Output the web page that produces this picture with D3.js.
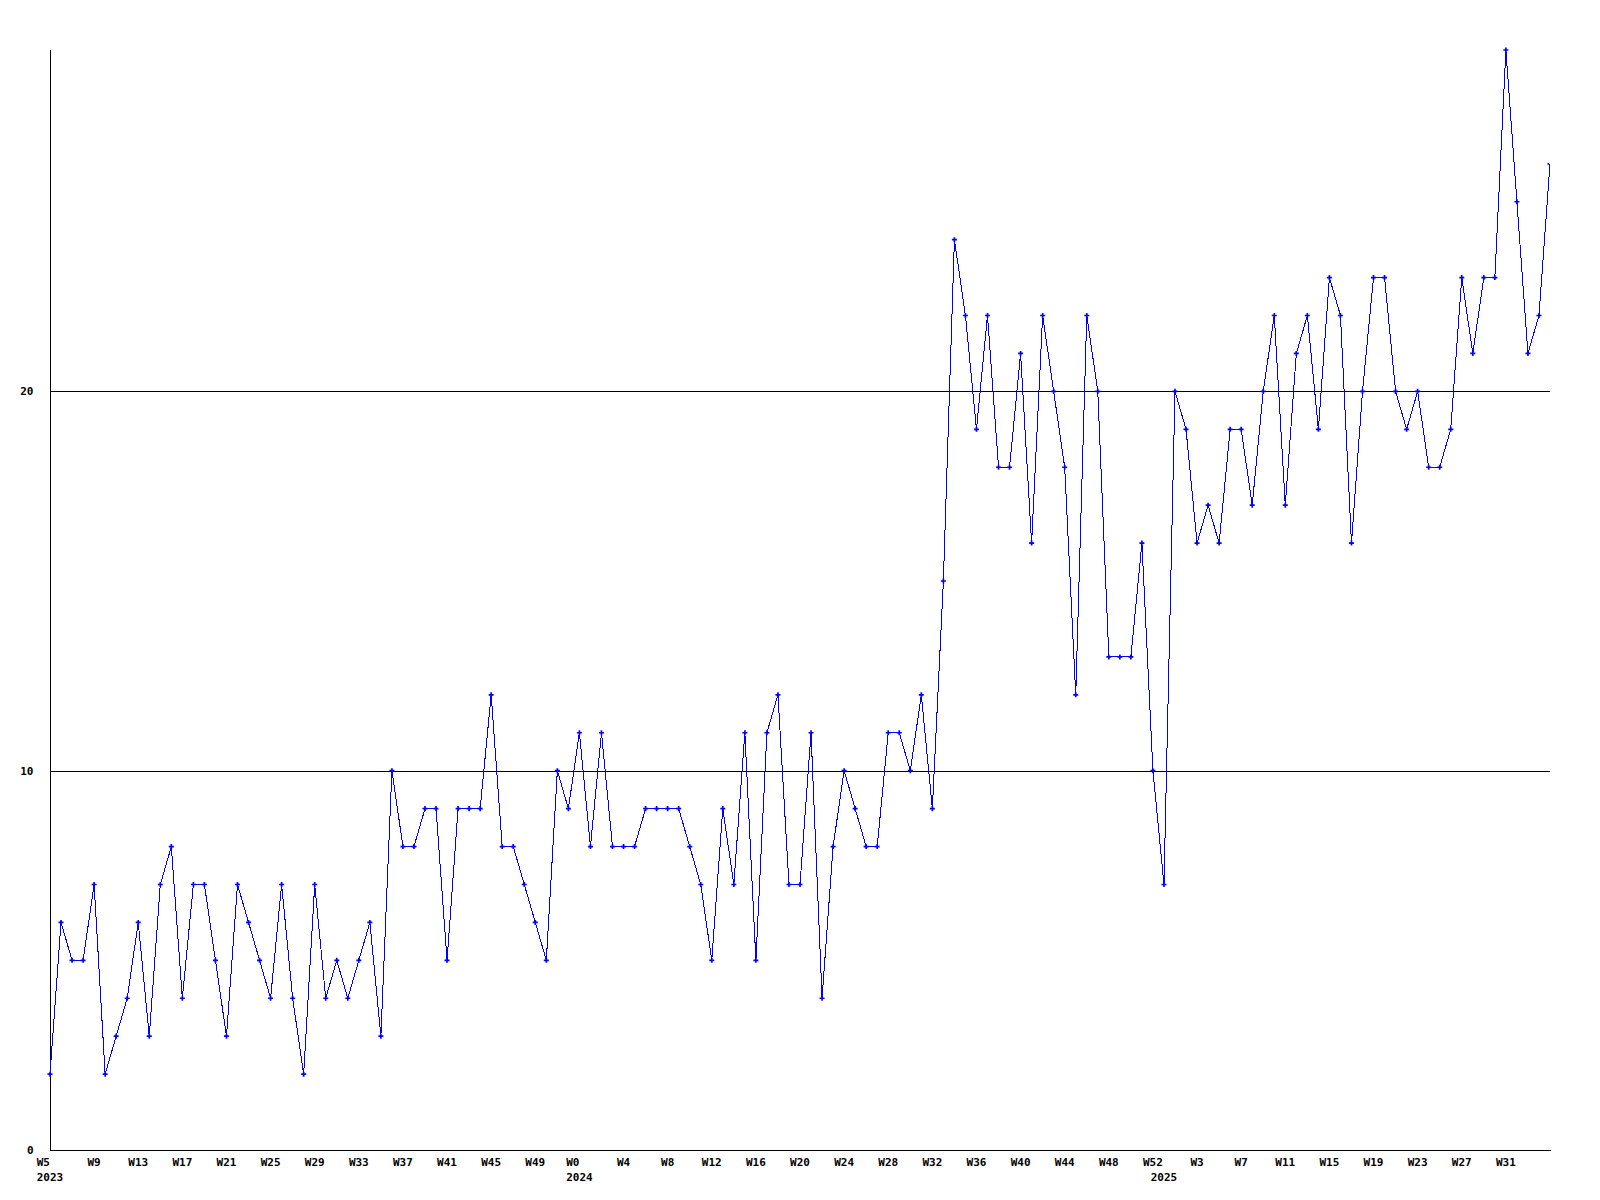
<!DOCTYPE html>
<html>
<head>
<meta charset="utf-8">
<script src="https://cdn.jsdelivr.net/npm/d3@7"></script>
<style>
  html, body { margin: 0; padding: 0; background: #ffffff; }
  svg { display: block; }
  text { font-family: "DejaVu Sans Mono", "Liberation Mono", monospace; font-weight: bold; font-size: 11px; fill: #000; }
</style>
</head>
<body>
<svg id="chart" width="1600" height="1200"></svg>
<script>
// ---- data ----
const years = ["2023", "2024", "2025"];
const yearFirstWeek = [5, 0, 0];
const yearWeekCount = [48, 53, 36];
const values = [
  2, 6, 5, 5, 7, 2, 3, 4, 6, 3,
  7, 8, 4, 7, 7, 5, 3, 7, 6, 5,
  4, 7, 4, 2, 7, 4, 5, 4, 5, 6,
  3, 10, 8, 8, 9, 9, 5, 9, 9, 9,
  12, 8, 8, 7, 6, 5, 10, 9, 11, 8,
  11, 8, 8, 8, 9, 9, 9, 9, 8, 7,
  5, 9, 7, 11, 5, 11, 12, 7, 7, 11,
  4, 8, 10, 9, 8, 8, 11, 11, 10, 12,
  9, 15, 24, 22, 19, 22, 18, 18, 21, 16,
  22, 20, 18, 12, 22, 20, 13, 13, 13, 16,
  10, 7, 20, 19, 16, 17, 16, 19, 19, 17,
  20, 22, 17, 21, 22, 19, 23, 22, 16, 20,
  23, 23, 20, 19, 20, 18, 18, 19, 23, 21,
  23, 23, 29, 25, 21, 22, 26
];
const yTicks = [0, 10, 20];
const yMax = 29;
const labelEvery = 4;
const lastLabelledWeek = { year: "2025", week: 31 };

(function () {
  // ---- categories ----
  const categories = [];
  years.forEach((yr, yi) => {
    for (let k = 0; k < yearWeekCount[yi]; k++) {
      categories.push({ year: yr, week: yearFirstWeek[yi] + k, yearStart: k === 0 });
    }
  });
  const data = values.map((v, i) => ({ i, v, cat: categories[i] }));

  // ---- layout ----
  const pL = 50, pR = 1550, pT = 50, pB = 1150;
  const svg = d3.select("#chart");

  const x = d3.scaleLinear().domain([0, values.length - 1]).range([pL, pR]);
  const y = d3.scaleLinear().domain([0, yMax]).range([pB, pT]);

  // grid lines
  svg.append("g").selectAll("line")
    .data(yTicks.filter(t => t > 0))
    .join("line")
    .attr("x1", pL).attr("x2", pR)
    .attr("y1", d => Math.round(y(d)) + 0.5).attr("y2", d => Math.round(y(d)) + 0.5)
    .attr("stroke", "#000").attr("stroke-width", 1).attr("shape-rendering", "crispEdges");

  // axis lines
  svg.append("line")
    .attr("x1", pL + 0.5).attr("x2", pL + 0.5).attr("y1", pT).attr("y2", pB + 1)
    .attr("stroke", "#000").attr("shape-rendering", "crispEdges");
  svg.append("line")
    .attr("x1", pL).attr("x2", pR + 1).attr("y1", pB + 0.5).attr("y2", pB + 0.5)
    .attr("stroke", "#000").attr("shape-rendering", "crispEdges");

  // y labels
  svg.append("g").selectAll("text")
    .data(yTicks)
    .join("text")
    .attr("x", 33.5)
    .attr("y", d => y(d))
    .attr("dy", "0.35em")
    .attr("text-anchor", "end")
    .text(d => d);

  // x labels
  const lastIdx = categories.findIndex(c => c.year === lastLabelledWeek.year && c.week === lastLabelledWeek.week);
  const tickIdx = d3.range(0, lastIdx + 1, labelEvery);
  const xl = svg.append("g");
  const yearStarts = categories.map((c, i) => c.yearStart ? i : -1).filter(i => i >= 0);

  const yearText = xl.selectAll("text.year")
    .data(yearStarts)
    .join("text")
    .attr("class", "year")
    .attr("x", i => x(i))
    .attr("y", 1181)
    .attr("text-anchor", "middle")
    .text(i => categories[i].year);

  const yearWidths = {};
  yearText.each(function (i) { yearWidths[i] = this.getComputedTextLength(); });

  xl.selectAll("text.week")
    .data(tickIdx)
    .join("text")
    .attr("class", "week")
    .attr("x", i => categories[i].yearStart ? x(i) - yearWidths[i] / 2 : x(i))
    .attr("y", 1166)
    .attr("text-anchor", i => categories[i].yearStart ? "start" : "middle")
    .text(i => "W" + categories[i].week);

  // line
  const line = d3.line().x(d => x(d.i)).y(d => y(d.v));
  svg.append("path")
    .datum(data)
    .attr("d", line)
    .attr("fill", "none")
    .attr("stroke", "#0000ff")
    .attr("stroke-width", 1)
    .attr("shape-rendering", "crispEdges");

  // markers
  svg.append("clipPath").attr("id", "plotclip")
    .append("rect").attr("x", 0).attr("y", 0).attr("width", pR - 1).attr("height", 1200);
  const sym = d3.symbol().type(d3.symbolCross).size(14);
  svg.append("g").attr("clip-path", "url(#plotclip)")
    .selectAll("path")
    .data(data)
    .join("path")
    .attr("transform", d => `translate(${x(d.i)},${y(d.v)})`)
    .attr("d", sym)
    .attr("fill", "#0000ff");
})();
</script>
</body>
</html>
